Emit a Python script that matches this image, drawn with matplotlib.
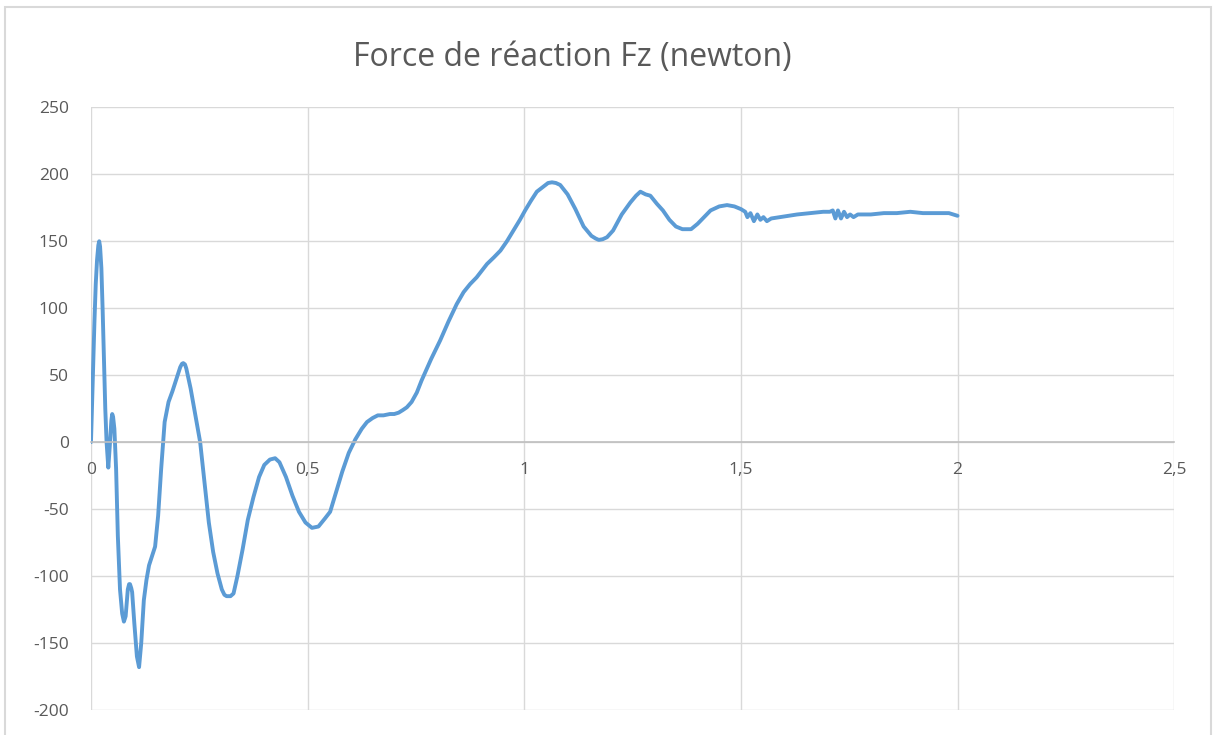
import matplotlib.pyplot as plt
from matplotlib.patches import Rectangle

# Data (time in s, force in N)
t = [0.000, 0.004, 0.008, 0.011, 0.014, 0.017, 0.019, 0.021, 0.024, 0.027,
     0.030, 0.033, 0.036, 0.040, 0.044, 0.047, 0.049, 0.051, 0.054, 0.058,
     0.062, 0.067, 0.072, 0.076, 0.080, 0.083, 0.085, 0.088, 0.090, 0.093,
     0.095, 0.100, 0.106, 0.111, 0.116, 0.122, 0.128, 0.134, 0.142, 0.148,
     0.155, 0.162, 0.170, 0.179, 0.188, 0.198, 0.206, 0.210, 0.213, 0.217,
     0.220, 0.230, 0.240, 0.252, 0.262, 0.272, 0.282, 0.292, 0.302, 0.308,
     0.313, 0.322, 0.329, 0.338, 0.350, 0.362, 0.375, 0.388, 0.400, 0.413,
     0.425, 0.435, 0.450, 0.465, 0.480, 0.495, 0.510, 0.525, 0.540, 0.552,
     0.565, 0.580, 0.595, 0.610, 0.625, 0.637, 0.650, 0.662, 0.675, 0.690,
     0.700, 0.710, 0.720, 0.729, 0.740, 0.752, 0.763, 0.785, 0.806, 0.825,
     0.844, 0.860, 0.875, 0.890, 0.914, 0.930, 0.945, 0.960, 0.975, 0.990,
     1.002, 1.015, 1.029, 1.045, 1.055, 1.064, 1.073, 1.083, 1.100, 1.118,
     1.137, 1.155, 1.165, 1.172, 1.181, 1.191, 1.205, 1.225, 1.245, 1.258,
     1.268, 1.280, 1.291, 1.306, 1.320, 1.335, 1.350, 1.365, 1.385, 1.400,
     1.415, 1.430, 1.450, 1.468, 1.485, 1.500, 1.510, 1.515, 1.522, 1.530,
     1.538, 1.545, 1.552, 1.560, 1.570, 1.590, 1.610, 1.630, 1.660, 1.690,
     1.705, 1.712, 1.718, 1.724, 1.731, 1.738, 1.745, 1.752, 1.760, 1.770,
     1.800, 1.830, 1.860, 1.891, 1.920, 1.950, 1.980, 2.000]
fz = [0, 45, 90, 118, 136, 147, 150, 146, 130, 98,
      60, 25, 0, -19, 0, 16, 21, 19, 10, -20,
      -70, -110, -128, -134, -130, -118, -110, -106, -106, -109,
      -112, -135, -160, -168, -150, -118, -103, -92, -84, -78,
      -55, -20, 15, 30, 38, 48, 56, 58.5, 59, 58,
      55, 40, 22, 0, -30, -60, -82, -98, -110, -114,
      -115, -115, -113, -100, -80, -58, -41, -26, -17, -13,
      -12, -15, -26, -40, -52, -60, -64, -63, -57, -52,
      -38, -22, -8, 2, 10, 15, 18, 20, 20, 21,
      21, 22, 24, 26, 30, 37, 46, 62, 76, 90,
      103, 112, 118, 123, 133, 138, 143, 150, 158, 166,
      173, 180, 187, 191, 193.5, 194, 193.5, 192, 185, 174,
      161, 154, 152, 151, 151.5, 153, 158, 170, 179, 184,
      187, 185, 184, 178, 173, 166, 161, 159, 159, 163,
      168, 173, 176, 177, 176, 174, 172, 168, 171, 165,
      170, 166, 168, 165, 167, 168, 169, 170, 171, 172,
      172, 173, 167, 173, 167, 172, 168, 170, 168, 170,
      170, 171, 171, 172, 171, 171, 171, 169]

xticks = [0, 0.5, 1, 1.5, 2, 2.5]
xlabels = ["0", "0,5", "1", "1,5", "2", "2,5"]
yticks = [-200, -150, -100, -50, 0, 50, 100, 150, 200, 250]

plt.rcParams['font.family'] = ['Open Sans', 'DejaVu Sans']
plt.rcParams['axes.unicode_minus'] = False
txt = '#595959'
grid = '#d9d9d9'

fig = plt.figure(figsize=(12.13, 7.35), dpi=100)
ax = fig.add_axes([0.075, 0.034, 0.893, 0.820])

ax.plot(t, fz, color='#5b9bd5', linewidth=2.8, solid_joinstyle='round',
        solid_capstyle='round')

ax.set_xlim(0, 2.5)
ax.set_ylim(-200, 250)
ax.set_xticks(xticks)
ax.set_xticklabels(xlabels)
ax.set_yticks(yticks)

ax.grid(True, color=grid, linewidth=1)
ax.set_axisbelow(True)
for s in ['top', 'right', 'left']:
    ax.spines[s].set_visible(False)
ax.spines['bottom'].set_position(('data', 0))
ax.spines['bottom'].set_color('#bfbfbf')
ax.spines['bottom'].set_linewidth(1.2)

ax.tick_params(axis='both', length=0, labelsize=12.5, colors=txt)
ax.tick_params(axis='x', pad=14)
ax.tick_params(axis='y', pad=16)

fig.text(0.472, 0.922, "Force de réaction Fz (newton)", ha='center', va='center',
         fontsize=23, color=txt)

# thin frame around the chart area
fig.patches.append(Rectangle((0.004, -0.01), 0.994, 1.0, transform=fig.transFigure,
                             fill=False, edgecolor='#d9d9d9', linewidth=1.5))

fig.savefig("out.png", dpi=100)
